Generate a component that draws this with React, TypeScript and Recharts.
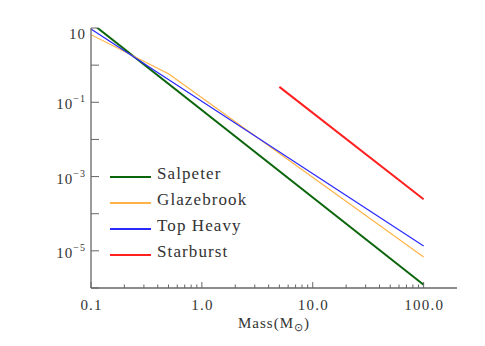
import { LineChart, Line, XAxis, YAxis, Legend } from "recharts"

// endpoints (power laws are straight lines here)
const salpeterMass = [0.1, 100]
const salpeterN = [13.8, 1.23e-6]
const glazebrookMass = [0.1, 0.5, 100]
const glazebrookN = [6.6, 0.59, 6.8e-6]
const topHeavyMass = [0.1, 100]
const topHeavyN = [9.4, 1.35e-5]
const starburstMass = [5, 100]
const starburstN = [0.26, 2.45e-4]

const seriesNames = ["Salpeter", "Glazebrook", "Top Heavy", "Starburst"]

const massMajor = [0.1, 1, 10, 100]
const massMinor = [
  0.2, 0.3, 0.4, 0.5, 0.6, 0.7, 0.8, 0.9,
  2, 3, 4, 5, 6, 7, 8, 9,
  20, 30, 40, 50, 60, 70, 80, 90,
]
const massTicks = [...massMajor, ...massMinor].sort((a, b) => a - b)
const nTicks = [1e-6, 1e-5, 1e-4, 1e-3, 1e-2, 1e-1, 1, 10]
const nLabelled = [1, -1, -3, -5]

const AXIS = "#666"
const TEXT = "#333"
const FONT = "'Liberation Serif', serif"

const toPoints = (xs: number[], ys: number[]) => xs.map((x, i) => ({ mass: x, n: ys[i] }))

function BottomTick({ x, y, payload }: any) {
  const major = massMajor.includes(payload.value)
  return (
    <g>
      <line x1={x} x2={x} y1={y} y2={y - (major ? 6 : 3.5)} stroke={AXIS} strokeWidth={1} />
      {major && (
        <text x={x + 0.6} y={y + 22} textAnchor="middle" fontFamily={FONT} fontSize={15} letterSpacing={1.2} fill={TEXT}>
          {payload.value.toFixed(1)}
        </text>
      )}
    </g>
  )
}

function TopTick({ x, y, payload }: any) {
  const major = massMajor.includes(payload.value)
  return <line x1={x} x2={x} y1={y} y2={y + (major ? 6 : 3.5)} stroke={AXIS} strokeWidth={1} />
}

function LeftTick({ x, y, payload }: any) {
  const exp = Math.round(Math.log10(payload.value))
  const showLabel = nLabelled.includes(exp)
  return (
    <g>
      <line x1={x} x2={x + 8} y1={y} y2={y} stroke={AXIS} strokeWidth={1} />
      {showLabel && exp === 1 && (
        <text x={x - 5} y={y + 10.5} textAnchor="end" fontFamily={FONT} fontSize={15} letterSpacing={1} fill={TEXT}>
          10
        </text>
      )}
      {showLabel && exp !== 1 && (
        <text x={x - 5} y={y + 7} textAnchor="end" fontFamily={FONT} fontSize={15} letterSpacing={1} fill={TEXT}>
          10
          <tspan fontSize={10} dy={-7}>{"\u2212" + Math.abs(exp)}</tspan>
        </text>
      )}
    </g>
  )
}

function RightTick({ x, y }: any) {
  return <line x1={x} x2={x - 8} y1={y} y2={y} stroke={AXIS} strokeWidth={1} />
}

function MassLabel({ viewBox }: any) {
  const cx = viewBox.x + viewBox.width / 2
  return (
    <text x={cx} y={viewBox.y + 40} textAnchor="middle" fontFamily={FONT} fontSize={15} letterSpacing={1} fill={TEXT}>
      Mass(M
      <tspan fontSize={11} dy={3}>⊙</tspan>
      <tspan dy={-3}>)</tspan>
    </text>
  )
}

function ImfLegend({ payload }: any) {
  const items = [...(payload || [])].sort(
    (a: any, b: any) => seriesNames.indexOf(a.value) - seriesNames.indexOf(b.value)
  )
  return (
    <svg width={160} height={110}>
      {items.map((entry: any, i: number) => (
        <g key={entry.value}>
          <line x1={2} x2={43} y1={14 + 26 * i} y2={14 + 26 * i} stroke={entry.color} strokeWidth={2} />
          <text x={49} y={15.5 + 26 * i} fontFamily={FONT} fontSize={17} letterSpacing={1.1} fill={TEXT}>
            {entry.value}
          </text>
        </g>
      ))}
    </svg>
  )
}

export default function App() {
  return (
    <div style={{ position: "absolute", left: 0, top: 0, width: 485, height: 346, background: "#fff" }}>
      <LineChart width={485} height={346} margin={{ top: 28, right: 28, bottom: 0, left: 0 }}>
        <XAxis
          xAxisId="bottom"
          dataKey="mass"
          type="number"
          scale="log"
          domain={[0.1, 200]}
          allowDataOverflow
          ticks={massTicks}
          interval={0}
          height={58}
          tickSize={0}
          tickMargin={0}
          tickLine={false}
          tick={<BottomTick />}
          axisLine={{ stroke: AXIS, strokeWidth: 1.3 }}
          label={<MassLabel />}
        />
        <XAxis
          xAxisId="top"
          orientation="top"
          dataKey="mass"
          type="number"
          scale="log"
          domain={[0.1, 200]}
          allowDataOverflow
          ticks={massTicks}
          interval={0}
          height={0}
          tickSize={0}
          tickMargin={0}
          tickLine={false}
          tick={<TopTick />}
          axisLine={{ stroke: AXIS, strokeWidth: 1.3 }}
        />
        <YAxis
          yAxisId="left"
          type="number"
          scale="log"
          domain={[1e-6, 10]}
          allowDataOverflow
          ticks={nTicks}
          interval={0}
          width={91}
          tickSize={0}
          tickMargin={0}
          tickLine={false}
          tick={<LeftTick />}
          axisLine={{ stroke: AXIS, strokeWidth: 1.3 }}
        />
        <YAxis
          yAxisId="right"
          orientation="right"
          type="number"
          scale="log"
          domain={[1e-6, 10]}
          allowDataOverflow
          ticks={nTicks}
          interval={0}
          width={0}
          tickSize={0}
          tickMargin={0}
          tickLine={false}
          tick={<RightTick />}
          axisLine={{ stroke: AXIS, strokeWidth: 1.3 }}
        />
        <Line
          xAxisId="bottom"
          yAxisId="left"
          data={toPoints(salpeterMass, salpeterN)}
          dataKey="n"
          name="Salpeter"
          stroke="#0b650b"
          strokeWidth={2}
          dot={false}
          isAnimationActive={false}
        />
        <Line
          xAxisId="bottom"
          yAxisId="left"
          data={toPoints(glazebrookMass, glazebrookN)}
          dataKey="n"
          name="Glazebrook"
          stroke="#ffb347"
          strokeWidth={1.2}
          dot={false}
          isAnimationActive={false}
        />
        <Line
          xAxisId="bottom"
          yAxisId="left"
          data={toPoints(topHeavyMass, topHeavyN)}
          dataKey="n"
          name="Top Heavy"
          stroke="#2a2aff"
          strokeWidth={1.2}
          dot={false}
          isAnimationActive={false}
        />
        <Line
          xAxisId="bottom"
          yAxisId="left"
          data={toPoints(starburstMass, starburstN)}
          dataKey="n"
          name="Starburst"
          stroke="#ff2020"
          strokeWidth={2}
          dot={false}
          isAnimationActive={false}
        />
        <Legend
          layout="vertical"
          align="center"
          verticalAlign="middle"
          content={<ImfLegend />}
          wrapperStyle={{ left: 108, top: 163, width: 160, height: 110 }}
        />
      </LineChart>
    </div>
  )
}
